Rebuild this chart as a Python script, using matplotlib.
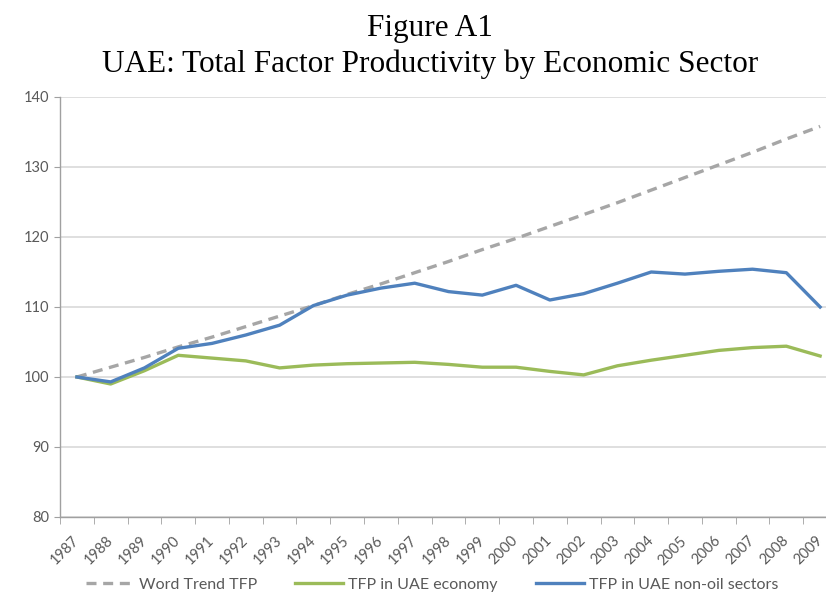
import matplotlib
matplotlib.use("Agg")
import matplotlib.pyplot as plt
from matplotlib.transforms import ScaledTranslation

years = [str(y) for y in range(1987, 2010)]

# values
world_trend = [100.0, 101.4, 102.8, 104.3, 105.7, 107.2, 108.7, 110.2, 111.8,
               113.3, 114.9, 116.5, 118.2, 119.8, 121.5, 123.2, 124.9, 126.7,
               128.5, 130.3, 132.1, 134.0, 135.8]
uae_economy = [100.0, 99.0, 100.9, 103.1, 102.7, 102.3, 101.3, 101.7, 101.9,
               102.0, 102.1, 101.8, 101.4, 101.4, 100.8, 100.3, 101.6, 102.4,
               103.1, 103.8, 104.2, 104.4, 103.0]
uae_non_oil = [100.0, 99.3, 101.3, 104.1, 104.8, 106.0, 107.4, 110.2, 111.7,
               112.7, 113.4, 112.2, 111.7, 113.1, 111.0, 111.9, 113.4, 115.0,
               114.7, 115.1, 115.4, 114.9, 110.0]

GREY_TXT = "#595959"
GRID = "#d9d9d9"

fig = plt.figure(figsize=(8.26, 5.99), dpi=100)
ax = fig.add_axes([60 / 826, 82 / 599, 777 / 826, 420 / 599])

x = list(range(len(years)))
ax.plot(x, world_trend, color="#a6a6a6", linewidth=2.4, linestyle=(0, (3, 2)),
        label="Word Trend TFP")
ax.plot(x, uae_economy, color="#9bbb59", linewidth=2.4, label="TFP in UAE economy")
ax.plot(x, uae_non_oil, color="#4f81bd", linewidth=2.4,
        label="TFP in UAE non-oil sectors")

ax.set_xlim(-0.5, len(years) - 0.5)
ax.set_ylim(80, 140)
ax.set_yticks(range(80, 141, 10))
ax.set_xticks(x)
ax.set_xticks([i - 0.5 for i in range(len(years) + 1)], minor=True)
ax.tick_params(axis="x", which="major", length=0, pad=12)
ax.tick_params(axis="x", which="minor", length=5, color="#a0a0a0")
ax.tick_params(axis="y", length=4, color="#a0a0a0", labelsize=10.5,
               labelcolor=GREY_TXT, pad=4)
ax.set_xticklabels(years, rotation=45, ha="right", va="top",
                   rotation_mode="anchor", fontsize=10.5, color=GREY_TXT,
                   family="Lato")
# nudge the slanted year labels a little left, as in the original
shift = ScaledTranslation(-5 / 100, 0, fig.dpi_scale_trans)
for lbl in ax.get_xticklabels():
    lbl.set_transform(lbl.get_transform() + shift)
for lbl in ax.get_yticklabels():
    lbl.set_family("Lato")

ax.grid(axis="y", color=GRID, linewidth=1.2)
ax.set_axisbelow(True)
for side in ("top", "right"):
    ax.spines[side].set_visible(False)
for side in ("left", "bottom"):
    ax.spines[side].set_color("#a0a0a0")
    ax.spines[side].set_linewidth(1.0)

fig.text(430 / 826, 1 - 36 / 599, "Figure A1", ha="center", va="baseline",
         fontsize=22.5, family="Liberation Serif")
fig.text(430 / 826, 1 - 72 / 599, "UAE: Total Factor Productivity by Economic Sector",
         ha="center", va="baseline", fontsize=22.5, family="Liberation Serif")

leg = fig.legend(loc="center", bbox_to_anchor=(432 / 826, 1 - 585 / 599), ncol=3,
                 frameon=False, handlelength=3.0, columnspacing=2.4,
                 handletextpad=0.3, prop={"family": "Lato", "size": 11.5})
for t in leg.get_texts():
    t.set_color(GREY_TXT)

fig.savefig("out.png", dpi=100)
